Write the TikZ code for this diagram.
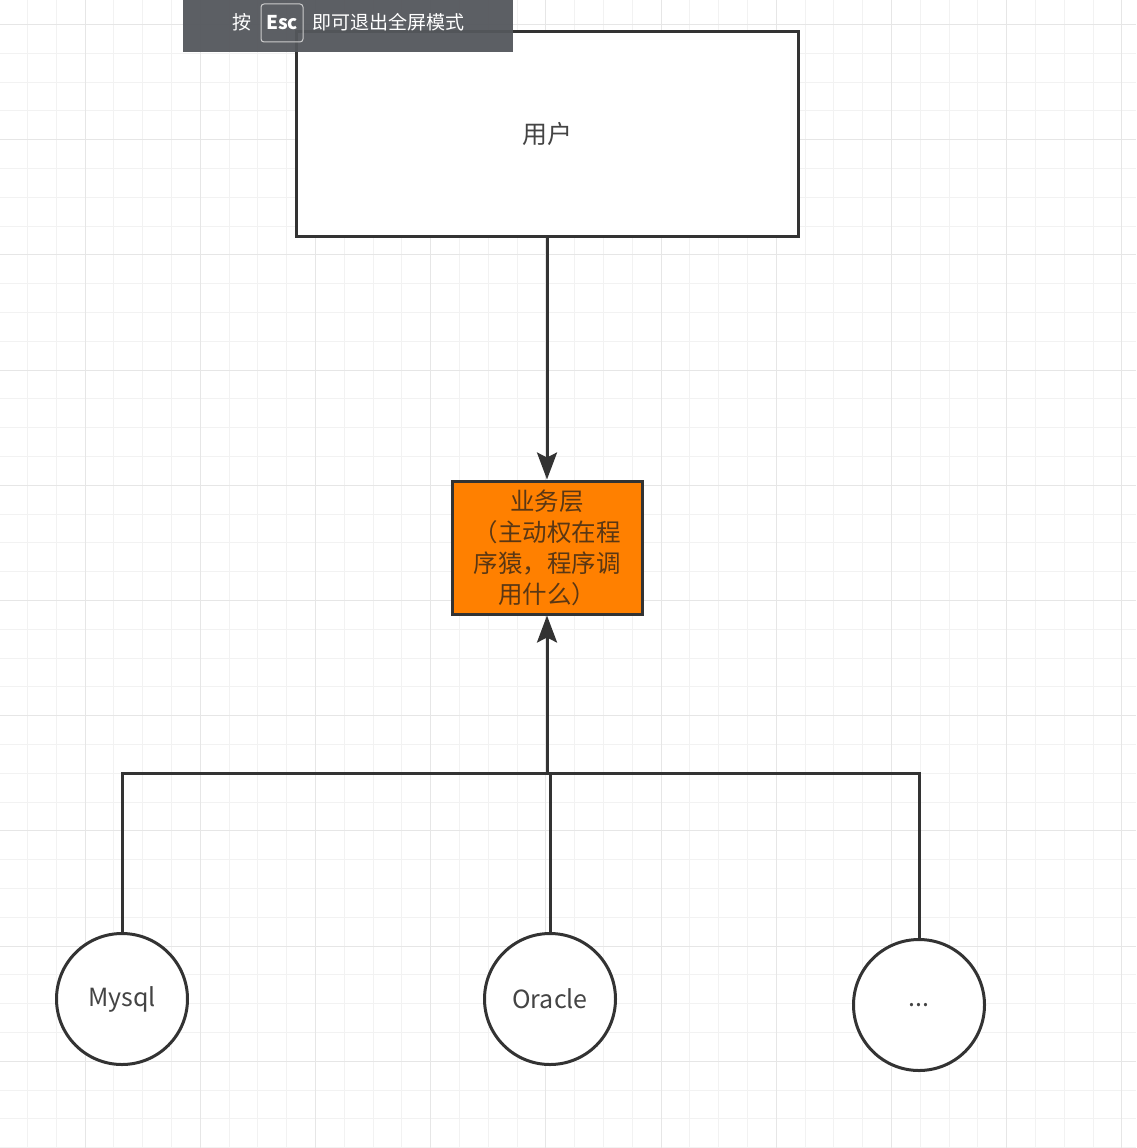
\documentclass[tikz,border=0pt]{standalone}
\usepackage{fontspec}
\setmainfont{Noto Sans CJK SC}
\usetikzlibrary{arrows.meta}
\definecolor{lineGray}{RGB}{51,51,51}
\definecolor{textGray}{RGB}{68,68,68}
\definecolor{bizOrange}{RGB}{255,128,0}
\definecolor{bizText}{RGB}{90,55,20}
\definecolor{gridMinor}{RGB}{242,242,242}
\definecolor{gridMajor}{RGB}{230,230,230}
\definecolor{bannerGray}{RGB}{84,87,92}
\newcommand{\moreDots}{...}

\begin{document}
\begin{tikzpicture}
[x=1pt,y=-1pt,
  lineDecorate/.style={line width=3pt,draw=lineGray},%
  arrowDecorate/.style={lineDecorate,-{Stealth[length=27pt,width=20pt,inset=5pt]}},%
  boxDecorate/.style={shape=rectangle,draw=lineGray,line width=3pt,inner sep=0pt,align=center,%
    font=\fontsize{24.5}{31}\selectfont},%
  nodeDecorate/.style={shape=circle,draw=lineGray,line width=3pt,fill=white,minimum size=131pt,%
    inner sep=0pt,text=textGray,font=\fontsize{25}{29}\selectfont}]
%% canvas and grid
\clip (0,0) rectangle (1136,1148);
\fill[white] (0,0) rectangle (1136,1148);
\foreach \i in {0,...,39}
{
  \draw[gridMinor,line width=1pt] ({27.4+28.8*\i},0) -- ({27.4+28.8*\i},1148);
  \draw[gridMinor,line width=1pt] (0,{24.4+28.8*\i}) -- (1136,{24.4+28.8*\i});
}
\foreach \i in {0,...,9}
{
  \draw[gridMajor,line width=1pt] ({85+115.2*\i},0) -- ({85+115.2*\i},1148);
  \draw[gridMajor,line width=1pt] (0,{24.4+115.2*\i}) -- (1136,{24.4+115.2*\i});
}
%% boxes
\node (user) at (547,134) [boxDecorate,fill=white,text=textGray,minimum width=502pt,minimum height=204pt,
  font=\fontsize{25}{31}\selectfont] {用户};
\node (biz) at (547,547.5) [boxDecorate,fill=bizOrange,text=bizText,minimum width=190pt,minimum height=133pt]
  {业务层\\（主动权在程\\序猿，程序调\\用什么）};
%% databases
\foreach \nodename/\x/\y/\label in {mysql/122/999/Mysql, oracle/550/999/Oracle, etc/919/1005/\moreDots}
{
  \node (\nodename) at (\x,\y) [nodeDecorate] {\label};
}
\coordinate (hub) at (547,773);
%% connectors
\draw[arrowDecorate] (user.south) -- (biz.north);
\draw[arrowDecorate] (hub) -- (biz.south);
\draw[lineDecorate] (mysql.north) |- (hub);
\draw[lineDecorate] (hub) -| (etc.north);
\draw[lineDecorate] (oracle.north) -- (oracle.north |- hub);
%% fullscreen hint
\node (hint) at (348,26) [fill=bannerGray,fill opacity=0.95,minimum width=330pt,minimum height=52pt,inner sep=0pt] {};
\node (press) at (242,22) [text=white,font=\fontsize{19}{19}\selectfont] {按};
\node (escKey) at (282,23) [draw=white!80!black,rounded corners=3pt,line width=1pt,minimum width=42pt,
  minimum height=38pt,inner sep=0pt,text=white,font=\bfseries\fontsize{19}{19}\selectfont] {Esc};
\node (quit) at (388,22) [text=white,font=\fontsize{19}{19}\selectfont] {即可退出全屏模式};
\end{tikzpicture}
\end{document}
